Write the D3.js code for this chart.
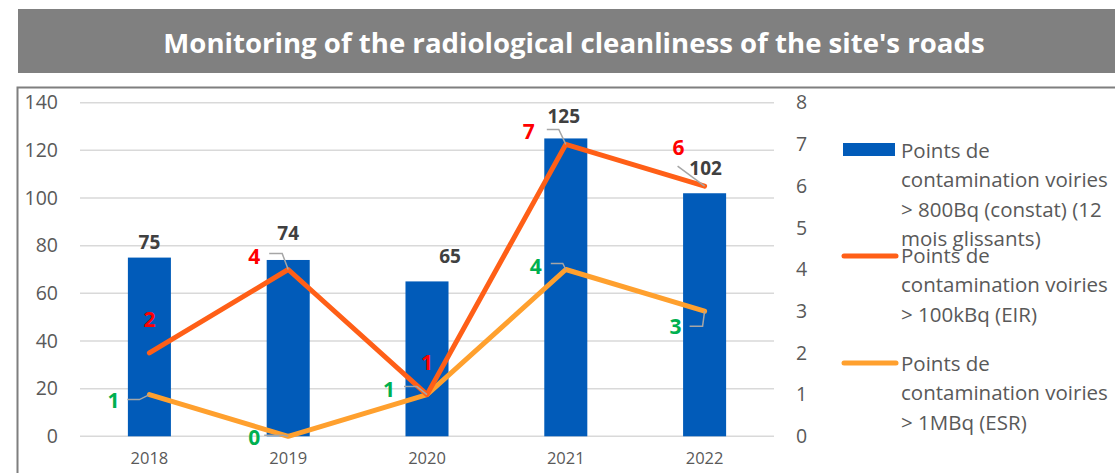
<!DOCTYPE html>
<html><head><meta charset="utf-8">
<script src="https://cdn.jsdelivr.net/npm/d3@7"></script>
<style>
html,body{margin:0;padding:0;background:#fff;}
svg{display:block;font-family:"Open Sans",sans-serif;}
</style></head>
<body>
<svg id="c" width="1115" height="473"></svg>
<script>
// ---- data ----
const title = "Monitoring of the radiological cleanliness of the site's roads";
const years = ["2018","2019","2020","2021","2022"];
const barValues = [75, 74, 65, 125, 102];        // > 800Bq (left axis)
const eirValues = [2, 4, 1, 7, 6];               // > 100kBq (right axis)
const esrValues = [1, 0, 1, 4, 3];               // > 1MBq (right axis)
const leftTicks = [0, 20, 40, 60, 80, 100, 120, 140];
const rightTicks = [0, 1, 2, 3, 4, 5, 6, 7, 8];
const legendLabels = [
  ["Points de", "contamination voiries", "> 800Bq (constat) (12", "mois glissants)"],
  ["Points de", "contamination voiries", "> 100kBq (EIR)"],
  ["Points de", "contamination voiries", "> 1MBq (ESR)"]
];

// ---- styles / label placement ----
const C = {bar:"#015BB9", eir:"#FF5F17", esr:"#FFA02E", grid:"#D9D9D9", txt:"#595959",
           barLbl:"#404040", eirLbl:"#FF0000", esrLbl:"#00B050", leader:"#A6A6A6"};
const barLblOff = [[0,-16],[0,-27],[23,-25],[-2,-22],[1,-25]];
const eirLblOff = [[0,-34],[-34,-14],[0,-33],[-37,-13],[-26,-39]];
const esrLblOff = [[-36,5],[-34,1],[-38,-6],[-30,-4],[-29,15]];
const eirLeader = [null, [[-19,-16],[-6,-16]], null, [[-19,-15],[-7,-15]], [[-27,-20],[-27,-20]]];
const esrLeader = [[[-22,5],[-10,5]], [[-24,-1],[-5,-1]], [[-23,-8],[-10,-8]], [[-15,-6],[-3,-6]], [[-15,15],[-2,15]]];

const svg = d3.select("#c");

// title band
svg.append("rect").attr("x",18).attr("y",9).attr("width",1115-18).attr("height",64).attr("fill","#808080");
svg.append("text").attr("x",574).attr("y",42).attr("text-anchor","middle").attr("dominant-baseline","central")
  .attr("fill","#fff").attr("font-weight","bold").attr("font-size",27.6).text(title);

// chart border
svg.append("path").attr("d","M17.5,473 V87.5 H1115").attr("fill","none").attr("stroke","#7F7F7F").attr("stroke-width",2);

const x = d3.scaleBand().domain(years).range([80,774]).paddingInner(0.69).paddingOuter(0.345);
const xc = d => x(d) + x.bandwidth()/2;
const yL = d3.scaleLinear().domain([0,140]).range([436.3,102.7]);
const yR = d3.scaleLinear().domain([0,8]).range([436.3,102.7]);

// grid
const g = svg.append("g");
g.selectAll("line.grid").data(leftTicks).join("line")
  .attr("x1",80).attr("x2",774).attr("y1",d=>yL(d)).attr("y2",d=>yL(d))
  .attr("stroke",C.grid).attr("stroke-width",1.5);

// left axis
const axL = d3.axisLeft(yL).tickValues(leftTicks).tickSize(0).tickPadding(0);
const gL = svg.append("g").attr("transform","translate(58,0)").call(axL);
gL.select(".domain").remove();
gL.selectAll("text").attr("font-size",19.5).attr("fill",C.txt).attr("font-family","Open Sans");

// right axis
const axR = d3.axisRight(yR).tickValues(rightTicks).tickSize(0).tickPadding(0);
const gR = svg.append("g").attr("transform","translate(796,0)").call(axR);
gR.select(".domain").remove();
gR.selectAll("text").attr("font-size",19.5).attr("fill",C.txt).attr("font-family","Open Sans");

// x axis labels
const axB = d3.axisBottom(x).tickSize(0).tickPadding(0);
const gB = svg.append("g").attr("transform","translate(0,452)").call(axB);
gB.select(".domain").remove();
gB.selectAll("text").attr("font-size",16.5).attr("fill",C.txt).attr("font-family","Open Sans");

// bars
svg.selectAll("rect.bar").data(barValues).join("rect").attr("class","bar")
  .attr("x",(d,i)=>x(years[i])).attr("width",x.bandwidth())
  .attr("y",d=>yL(d)).attr("height",d=>yL(0)-yL(d)).attr("fill",C.bar);

// lines
const line = d3.line().x((d,i)=>xc(years[i])).y(d=>yR(d));
svg.append("path").datum(esrValues).attr("d",line).attr("fill","none").attr("stroke",C.esr)
  .attr("stroke-width",5).attr("stroke-linejoin","round").attr("stroke-linecap","round");
svg.append("path").datum(eirValues).attr("d",line).attr("fill","none").attr("stroke",C.eir)
  .attr("stroke-width",5).attr("stroke-linejoin","round").attr("stroke-linecap","round");

// leader lines
function leaders(vals, spec){
  vals.forEach((v,i)=>{
    if(!spec[i]) return;
    const px = xc(years[i]), py = yR(v);
    const pts = spec[i].map(p=>[px+p[0], py+p[1]]);
    pts.push([px, py]);
    svg.append("path").attr("d", d3.line()(pts)).attr("fill","none")
      .attr("stroke",C.leader).attr("stroke-width",1.5);
  });
}
leaders(esrValues, esrLeader);
leaders(eirValues, eirLeader);

// labels
svg.selectAll("text.bl").data(barValues).join("text").attr("class","bl")
  .attr("x",(d,i)=>xc(years[i])+barLblOff[i][0]).attr("y",(d,i)=>yL(d)+barLblOff[i][1])
  .attr("text-anchor","middle").attr("dominant-baseline","central")
  .attr("font-weight","bold").attr("font-size",19).attr("fill",C.barLbl).text(d=>d);
svg.selectAll("text.el").data(eirValues).join("text").attr("class","el")
  .attr("x",(d,i)=>xc(years[i])+eirLblOff[i][0]).attr("y",(d,i)=>yR(d)+eirLblOff[i][1])
  .attr("text-anchor","middle").attr("dominant-baseline","central")
  .attr("font-weight","bold").attr("font-size",21).attr("fill",C.eirLbl).text(d=>d);
svg.selectAll("text.sl").data(esrValues).join("text").attr("class","sl")
  .attr("x",(d,i)=>xc(years[i])+esrLblOff[i][0]).attr("y",(d,i)=>yR(d)+esrLblOff[i][1])
  .attr("text-anchor","middle").attr("dominant-baseline","central")
  .attr("font-weight","bold").attr("font-size",21).attr("fill",C.esrLbl).text(d=>d);

// legend
const legY = [150, 255, 363];
const lg = svg.append("g");
lg.append("rect").attr("x",843).attr("y",legY[0]-7).attr("width",52).attr("height",13).attr("fill",C.bar);
lg.append("line").attr("x1",844).attr("x2",896).attr("y1",legY[1]+1).attr("y2",legY[1]+1)
  .attr("stroke",C.eir).attr("stroke-width",5).attr("stroke-linecap","round");
lg.append("line").attr("x1",844).attr("x2",896).attr("y1",legY[2]).attr("y2",legY[2])
  .attr("stroke",C.esr).attr("stroke-width",5).attr("stroke-linecap","round");
legendLabels.forEach((lines,k)=>{
  lines.forEach((t,j)=>{
    lg.append("text").attr("x",901).attr("y",legY[k]+j*29.3).attr("dominant-baseline","central")
      .attr("font-size",20.5).attr("fill",C.txt).text(t);
  });
});
</script>
</body></html>
